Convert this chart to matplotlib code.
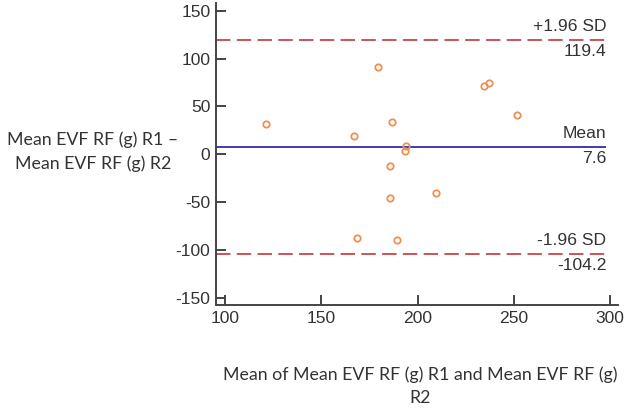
import numpy as np
import matplotlib
matplotlib.use('Agg')
import matplotlib.pyplot as plt

plt.rcParams['font.family'] = ['Liberation Sans', 'DejaVu Sans']
plt.rcParams['axes.unicode_minus'] = False

# Bland-Altman data
meanVals = [121.2, 179.6, 167.0, 186.9, 193.8, 193.6, 185.5, 209.7,
            185.5, 168.5, 189.5, 234.2, 237.0, 251.8]
diffVals = [32.0, 91.4, 19.2, 34.1, 8.7, 3.8, -12.3, -40.2,
            -46.1, -87.3, -89.7, 71.5, 74.3, 41.2]
meanDiff = 7.6
upperLoA = 119.4
lowerLoA = -104.2
xTicks = [100, 150, 200, 250, 300]
yTicks = [-150, -100, -50, 0, 50, 100, 150]

colAxis = '#444444'
colText = '#333333'
colRed = '#c8454a'
colBlue = '#3c3cae'
colPts = '#ee9050'
lblFont = ['Lato', 'DejaVu Sans']
szNum = 12.6

fig = plt.figure(figsize=(6.27, 4.08), dpi=100)
ax = fig.add_axes([0.3445, 0.2525, 0.6411, 0.740])

ax.set_xlim(95.3, 304)
ax.set_ylim(-157.6, 158)

xEnd = 298
ax.hlines(meanDiff, 95.3, xEnd, color=colBlue, lw=1.4)
ax.hlines([upperLoA, lowerLoA], 95.3, xEnd, color=colRed, lw=1.3,
          linestyles=(0, (8, 3.5)))

ax.plot(meanVals, diffVals, 'o', ms=4.6, mfc='none', mec=colPts, mew=1.3)

def lineLabel(y, top, bottom):
    ax.annotate(top, (xEnd, y), xytext=(0, 13), textcoords='offset pixels',
                ha='right', va='center', fontsize=szNum, color=colText)
    ax.annotate(bottom, (xEnd, y), xytext=(0, -12), textcoords='offset pixels',
                ha='right', va='center', fontsize=szNum, color=colText)

lineLabel(upperLoA, '+1.96 SD', '%.1f' % upperLoA)
lineLabel(meanDiff, 'Mean', '%.1f' % meanDiff)
lineLabel(lowerLoA, '-1.96 SD', '%.1f' % lowerLoA)

for s in ['top', 'right']:
    ax.spines[s].set_visible(False)
for s in ['left', 'bottom']:
    ax.spines[s].set_color(colAxis)
    ax.spines[s].set_linewidth(1.4)

ax.set_xticks(xTicks)
ax.set_yticks(yTicks)
ax.tick_params(direction='in', length=7, width=1.4, color=colAxis,
               labelcolor=colText, labelsize=szNum, pad=4)

fig.text(93/627, 1-152/408, 'Mean EVF RF (g) R1 \u2013\nMean EVF RF (g) R2',
         ha='center', va='center', fontsize=12.8, family=lblFont,
         color=colText, linespacing=1.55)
fig.text(420/627, 1-386/408, 'Mean of Mean EVF RF (g) R1 and Mean EVF RF (g)\nR2',
         ha='center', va='center', fontsize=12.8, family=lblFont,
         color=colText, linespacing=1.5)

plt.savefig('out.png', dpi=100)
